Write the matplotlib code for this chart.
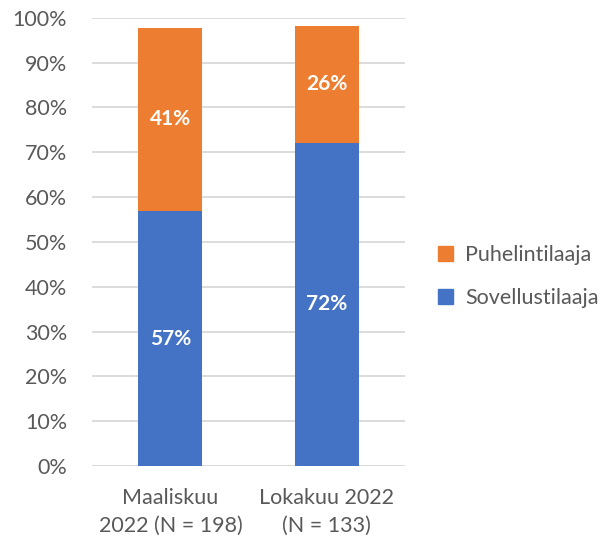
import numpy as np
import matplotlib.pyplot as plt
from matplotlib.patches import Patch

plt.rcParams['font.family'] = ['Lato', 'DejaVu Sans']

categories = ["Maaliskuu\n2022 (N = 198)", "Lokakuu 2022\n(N = 133)"]
sovellus = [56.9, 72.1]
puhelin = [40.9, 26.1]
sovellus_labels = ["57%", "72%"]
puhelin_labels = ["41%", "26%"]

blue = '#4472C4'
orange = '#ED7D31'
gray = '#595959'

fig = plt.figure(figsize=(6.07, 5.4), dpi=100)
ax = fig.add_axes([0.152, 0.137, 0.515, 0.83])

x = np.arange(len(categories))
ax.bar(x, sovellus, width=0.41, color=blue, zorder=3)
ax.bar(x, puhelin, width=0.41, bottom=sovellus, color=orange, zorder=3)

for i in range(len(x)):
    ax.text(x[i], sovellus[i] / 2, sovellus_labels[i], ha='center', va='center',
            color='white', fontsize=15, fontweight='bold', zorder=4)
    ax.text(x[i], sovellus[i] + puhelin[i] / 2, puhelin_labels[i], ha='center', va='center',
            color='white', fontsize=15, fontweight='bold', zorder=4)

ax.set_xlim(-0.5, 1.5)
ax.set_ylim(0, 100)
ax.set_yticks(np.arange(0, 101, 10))
ax.set_yticklabels([f"{v}%" for v in range(0, 101, 10)])
ax.set_xticks(x)
ax.set_xticklabels(categories, linespacing=1.5)
ax.tick_params(axis='y', length=0, labelsize=15.5, colors=gray, pad=18)
ax.tick_params(axis='x', length=0, labelsize=15.5, colors=gray, pad=16)
ax.grid(axis='y', color='#D9D9D9', linewidth=1.3, zorder=0)
for s in ax.spines.values():
    s.set_visible(False)
ax.axhline(0, color='#D9D9D9', linewidth=1.3, zorder=1)

handles = [Patch(color=orange, label='Puhelintilaaja'),
           Patch(color=blue, label='Sovellustilaaja')]
fig.legend(handles=handles, loc='center left', bbox_to_anchor=(0.69, 0.488),
           frameon=False, fontsize=15.5, labelcolor=gray, handlelength=0.7,
           handleheight=0.7, handletextpad=0.55, labelspacing=1.05)

fig.savefig('out.png', dpi=100)
